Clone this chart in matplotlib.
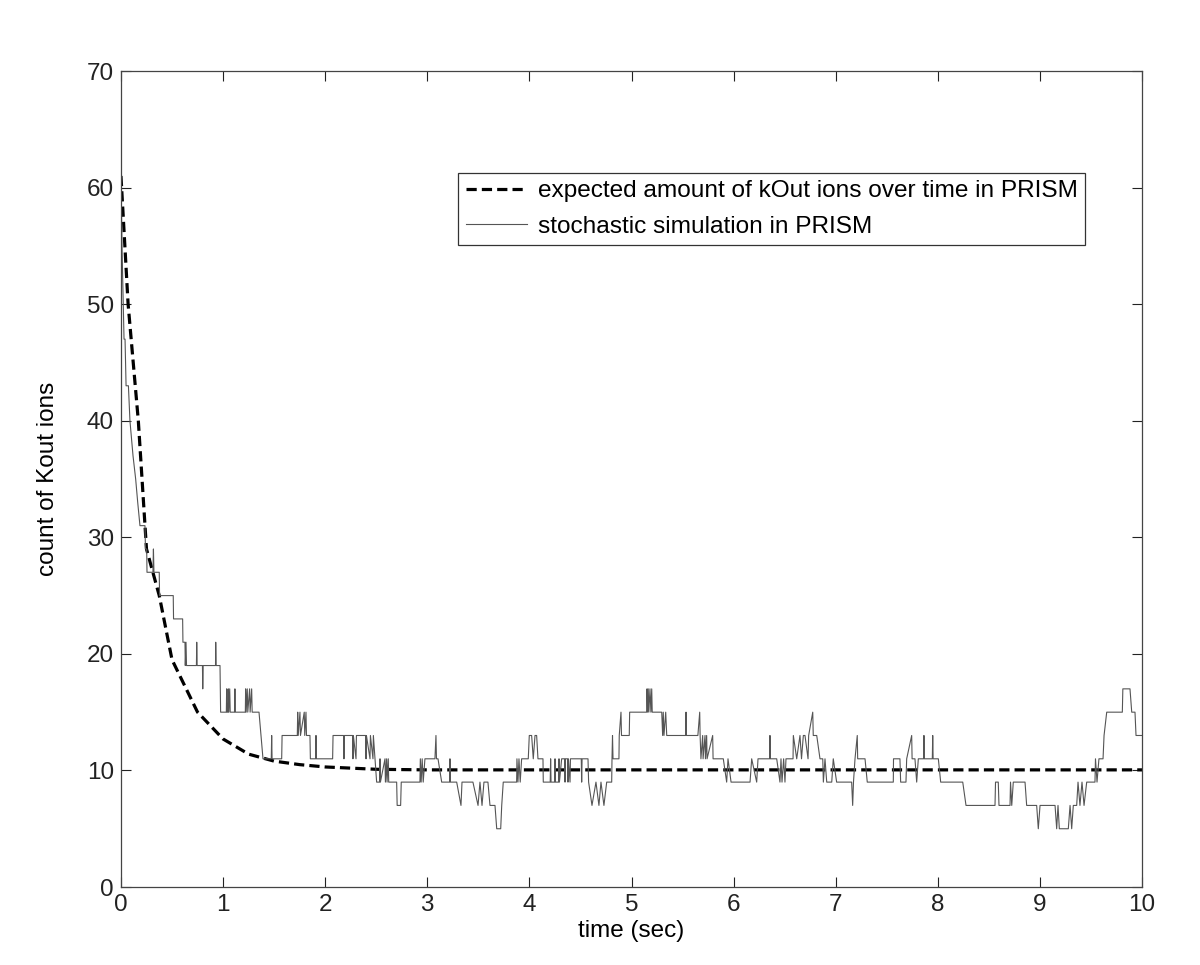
import matplotlib
matplotlib.use('Agg')
import matplotlib.pyplot as plt

plt.rcParams['font.family'] = ['Liberation Sans', 'DejaVu Sans']

# expected curve
t_exp = [0, 0.07, 0.17, 0.25, 0.375, 0.5, 0.75, 1.0, 1.25, 1.5, 1.75, 2.0, 2.5, 3.0, 10.0]
k_exp = [61, 50, 40, 29, 25, 19.5, 15, 12.7, 11.4, 10.8, 10.5, 10.3, 10.1, 10.05, 10.05]

# stochastic simulation trace
t_sim = [0.000, 0.010, 0.030, 0.040, 0.050, 0.073, 0.088, 0.098, 0.118, 0.144, 0.164, 0.186,
         0.235, 0.240, 0.252, 0.255, 0.313, 0.318, 0.323, 0.375, 0.378, 0.512, 0.515, 0.604,
         0.607, 0.627, 0.630, 0.637, 0.642, 0.739, 0.742, 0.746, 0.798, 0.801, 0.805, 0.926,
         0.928, 0.932, 0.970, 0.976, 1.032, 1.035, 1.040, 1.048, 1.051, 1.056, 1.065, 1.070,
         1.112, 1.116, 1.120, 1.218, 1.221, 1.226, 1.237, 1.242, 1.260, 1.265, 1.280, 1.285,
         1.352, 1.371, 1.391, 1.472, 1.476, 1.480, 1.574, 1.578, 1.727, 1.731, 1.736, 1.753,
         1.758, 1.795, 1.800, 1.812, 1.817, 1.851, 1.855, 1.906, 1.910, 1.914, 2.073, 2.077,
         2.180, 2.184, 2.188, 2.268, 2.272, 2.276, 2.302, 2.306, 2.396, 2.400, 2.404, 2.439,
         2.443, 2.468, 2.472, 2.488, 2.504, 2.533, 2.537, 2.541, 2.586, 2.590, 2.602, 2.606,
         2.618, 2.622, 2.700, 2.705, 2.739, 2.745, 2.928, 2.932, 2.940, 2.950, 2.960, 2.977,
         3.075, 3.085, 3.090, 3.105, 3.141, 3.218, 3.222, 3.226, 3.288, 3.330, 3.340, 3.447,
         3.497, 3.516, 3.536, 3.555, 3.594, 3.614, 3.663, 3.680, 3.719, 3.729, 3.744, 3.875,
         3.878, 3.888, 3.898, 3.910, 3.924, 3.989, 3.999, 4.022, 4.038, 4.055, 4.071, 4.084,
         4.133, 4.136, 4.204, 4.208, 4.212, 4.247, 4.251, 4.255, 4.286, 4.290, 4.294, 4.316,
         4.345, 4.349, 4.353, 4.374, 4.378, 4.382, 4.398, 4.402, 4.508, 4.512, 4.516, 4.574,
         4.580, 4.613, 4.652, 4.681, 4.701, 4.730, 4.757, 4.806, 4.809, 4.814, 4.819, 4.877,
         4.880, 4.897, 4.902, 4.978, 4.982, 5.148, 5.152, 5.158, 5.164, 5.170, 5.181, 5.190,
         5.198, 5.203, 5.296, 5.305, 5.311, 5.318, 5.335, 5.345, 5.530, 5.534, 5.538, 5.650,
         5.668, 5.672, 5.680, 5.697, 5.701, 5.720, 5.724, 5.736, 5.740, 5.795, 5.799, 5.899,
         5.932, 5.945, 5.975, 6.161, 6.177, 6.226, 6.239, 6.352, 6.356, 6.360, 6.422, 6.454,
         6.464, 6.474, 6.490, 6.503, 6.513, 6.582, 6.585, 6.618, 6.650, 6.665, 6.683, 6.699,
         6.729, 6.735, 6.775, 6.780, 6.814, 6.846, 6.873, 6.879, 6.895, 6.912, 6.961, 6.976,
         7.009, 7.156, 7.166, 7.174, 7.189, 7.211, 7.215, 7.287, 7.309, 7.564, 7.566, 7.629,
         7.636, 7.688, 7.695, 7.744, 7.748, 7.776, 7.793, 7.809, 7.860, 7.864, 7.868, 7.946,
         7.950, 7.954, 8.005, 8.028, 8.244, 8.276, 8.560, 8.565, 8.592, 8.599, 8.707, 8.712,
         8.724, 8.739, 8.854, 8.870, 8.968, 8.984, 9.001, 9.148, 9.164, 9.177, 9.190, 9.278,
         9.295, 9.311, 9.327, 9.360, 9.373, 9.392, 9.412, 9.432, 9.458, 9.539, 9.544, 9.559,
         9.578, 9.618, 9.628, 9.654, 9.807, 9.812, 9.882, 9.899, 9.931, 9.941, 10.000]
k_sim = [61, 55, 47, 47, 43, 43, 40, 39, 37, 35, 33, 31,
         31, 29, 29, 27, 27, 29, 27, 27, 25, 25, 23, 23,
         21, 21, 19, 21, 19, 19, 21, 19, 19, 17, 19, 19,
         21, 19, 19, 15, 15, 17, 15, 15, 17, 15, 17, 15,
         15, 17, 15, 15, 17, 15, 17, 15, 17, 15, 17, 15,
         15, 13, 11, 11, 13, 11, 11, 13, 13, 15, 13, 15,
         13, 15, 13, 15, 13, 13, 11, 11, 13, 11, 11, 13,
         13, 11, 13, 13, 11, 13, 11, 13, 13, 11, 13, 11,
         13, 11, 13, 11, 9, 9, 11, 9, 11, 9, 11, 9,
         11, 9, 9, 7, 7, 9, 9, 11, 9, 11, 9, 11,
         11, 13, 11, 11, 9, 9, 11, 9, 9, 7, 9, 9,
         7, 9, 7, 9, 9, 7, 7, 5, 5, 7, 9, 9,
         11, 9, 11, 9, 11, 11, 13, 13, 11, 13, 13, 11,
         11, 9, 9, 11, 9, 9, 11, 9, 9, 11, 9, 11,
         11, 9, 11, 11, 9, 11, 9, 11, 11, 9, 11, 11,
         9, 7, 9, 7, 9, 7, 9, 9, 11, 13, 11, 11,
         13, 15, 13, 13, 15, 15, 17, 15, 17, 15, 17, 15,
         17, 15, 15, 13, 15, 13, 15, 13, 13, 15, 13, 13,
         15, 13, 11, 13, 11, 13, 11, 13, 11, 13, 11, 11,
         9, 11, 9, 9, 11, 9, 11, 11, 13, 11, 11, 9,
         11, 9, 11, 9, 11, 11, 13, 11, 13, 11, 13, 13,
         11, 13, 15, 13, 13, 11, 11, 9, 11, 9, 9, 11,
         9, 9, 7, 9, 11, 13, 11, 11, 9, 9, 11, 11,
         9, 9, 11, 13, 11, 11, 9, 11, 11, 13, 11, 11,
         13, 11, 11, 9, 9, 7, 7, 9, 9, 7, 7, 9,
         7, 9, 9, 7, 7, 5, 7, 7, 5, 7, 5, 5,
         7, 5, 7, 7, 9, 7, 9, 7, 9, 9, 11, 9,
         11, 11, 13, 15, 15, 17, 17, 15, 15, 13, 13]

fig = plt.figure(figsize=(12, 9.65), dpi=100)
ax = fig.add_axes([0.1008, 0.0808, 0.8509, 0.8456])

ax.plot(t_exp, k_exp, color='black', linestyle=(0, (3.2, 1.6)), linewidth=2.3,
        label='expected amount of kOut ions over time in PRISM')
ax.plot(t_sim, k_sim, color='#555555', linewidth=0.8,
        label='stochastic simulation in PRISM')

ax.set_xlim(0, 10)
ax.set_ylim(0, 70)
ax.set_xticks(range(0, 11))
ax.set_yticks(range(0, 71, 10))
ax.tick_params(direction='in', length=7, width=0.8, top=True, right=True,
               labelsize=17.5, colors='#222222', pad=5)
for s in ax.spines.values():
    s.set_color('#444444')
    s.set_linewidth(0.9)

ax.set_xlabel('time (sec)', fontsize=17.5, labelpad=3)
ax.set_ylabel('count of Kout ions', fontsize=17.5, labelpad=20)

leg = ax.legend(loc='upper right', bbox_to_anchor=(0.944, 0.875), borderaxespad=0,
                fontsize=17.6, fancybox=False, framealpha=1, edgecolor='#333333',
                handlelength=2.5, handletextpad=0.45, borderpad=0.3, labelspacing=0.55)
leg.get_frame().set_linewidth(0.9)

fig.savefig('out.png', dpi=100)
